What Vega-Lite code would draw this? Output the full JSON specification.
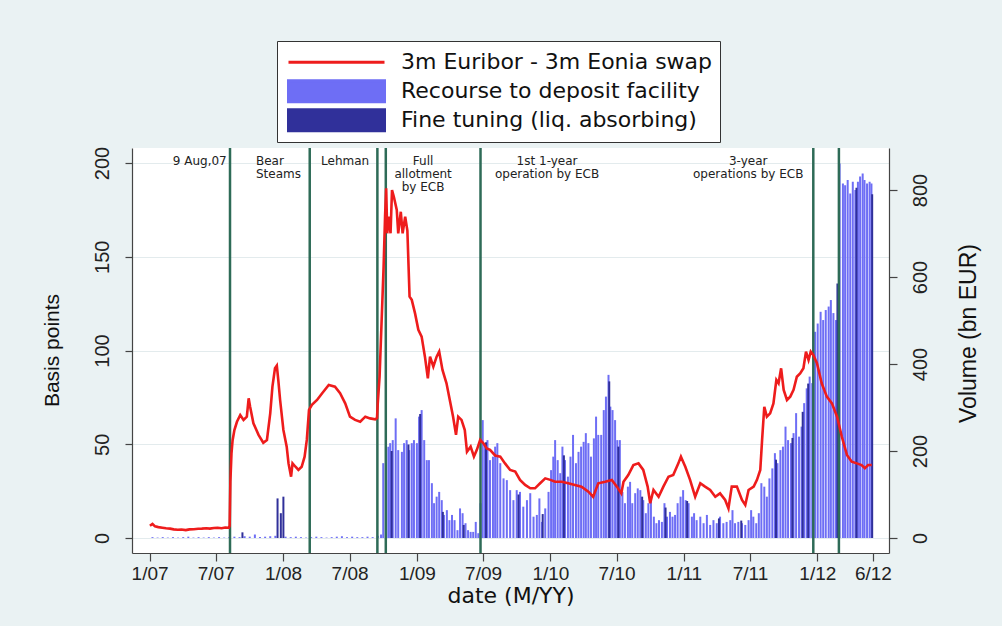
{
  "$schema": "https://vega.github.io/schema/vega-lite/v6.json",
  "width": 757,
  "height": 405,
  "autosize": {"type": "none"},
  "padding": {"left": 132, "top": 148, "right": 113, "bottom": 73},
  "background": "#eaf2f3",
  "view": {"fill": "white", "stroke": null},
  "config": {
    "axis": {"domainColor": "#444", "tickColor": "#444", "labelColor": "#222", "titleColor": "#111", "titleFontWeight": "normal", "domainWidth": 1.2, "tickWidth": 1.2}
  },
  "datasets": {
    "spread": [
      {"date":"2007-01-02","bp":6.5},{"date":"2007-01-09","bp":7.5},{"date":"2007-01-16","bp":6.2},{"date":"2007-01-25","bp":5.8},
      {"date":"2007-02-05","bp":5.5},{"date":"2007-02-15","bp":5.2},{"date":"2007-02-26","bp":5.0},{"date":"2007-03-08","bp":4.6},
      {"date":"2007-03-19","bp":4.4},{"date":"2007-03-29","bp":4.5},{"date":"2007-04-10","bp":4.2},{"date":"2007-04-20","bp":4.6},
      {"date":"2007-05-02","bp":4.7},{"date":"2007-05-14","bp":4.9},{"date":"2007-05-24","bp":5.0},{"date":"2007-06-05","bp":5.2},
      {"date":"2007-06-15","bp":5.0},{"date":"2007-06-26","bp":5.3},{"date":"2007-07-06","bp":5.5},{"date":"2007-07-17","bp":5.2},
      {"date":"2007-07-27","bp":5.6},{"date":"2007-08-06","bp":5.5},{"date":"2007-08-08","bp":6.5},{"date":"2007-08-10","bp":30},
      {"date":"2007-08-13","bp":45},{"date":"2007-08-16","bp":52},{"date":"2007-08-21","bp":57.6},{"date":"2007-08-28","bp":62},
      {"date":"2007-09-06","bp":65.6},{"date":"2007-09-15","bp":63},{"date":"2007-09-24","bp":64.7},{"date":"2007-09-29","bp":74.5},
      {"date":"2007-10-03","bp":70},{"date":"2007-10-12","bp":61.2},{"date":"2007-10-26","bp":55},{"date":"2007-11-08","bp":50.8},
      {"date":"2007-11-18","bp":52.3},{"date":"2007-11-27","bp":66.5},{"date":"2007-12-03","bp":80.7},{"date":"2007-12-10","bp":90.5},
      {"date":"2007-12-15","bp":91.9},{"date":"2007-12-19","bp":84.3},{"date":"2007-12-24","bp":73.6},{"date":"2008-01-02","bp":57.6},
      {"date":"2008-01-11","bp":48.7},{"date":"2008-01-16","bp":39.8},{"date":"2008-01-23","bp":32.7},{"date":"2008-01-27","bp":39.8},
      {"date":"2008-02-04","bp":38},{"date":"2008-02-12","bp":36.3},{"date":"2008-02-21","bp":38},{"date":"2008-02-29","bp":43.4},
      {"date":"2008-03-06","bp":52.3},{"date":"2008-03-12","bp":68.3},{"date":"2008-03-20","bp":71},{"date":"2008-04-03","bp":73.6},
      {"date":"2008-04-17","bp":77.2},{"date":"2008-05-05","bp":81.6},{"date":"2008-05-22","bp":80.7},{"date":"2008-06-05","bp":77.2},
      {"date":"2008-06-19","bp":71.8},{"date":"2008-07-02","bp":64.7},{"date":"2008-07-16","bp":63},{"date":"2008-07-30","bp":62},
      {"date":"2008-08-13","bp":64.7},{"date":"2008-08-26","bp":63.8},{"date":"2008-09-09","bp":63.3},{"date":"2008-09-14","bp":64},
      {"date":"2008-09-16","bp":71.8},{"date":"2008-09-21","bp":86},{"date":"2008-09-27","bp":118},{"date":"2008-10-02","bp":144.7},
      {"date":"2008-10-06","bp":171.4},{"date":"2008-10-09","bp":186.5},{"date":"2008-10-12","bp":162.5},{"date":"2008-10-16","bp":171.4},
      {"date":"2008-10-21","bp":162.5},{"date":"2008-10-25","bp":185.6},{"date":"2008-10-30","bp":182},{"date":"2008-11-07","bp":175},
      {"date":"2008-11-11","bp":162.5},{"date":"2008-11-18","bp":174},{"date":"2008-11-23","bp":162.5},{"date":"2008-11-30","bp":171.4},
      {"date":"2008-12-06","bp":164},{"date":"2008-12-12","bp":128.7},{"date":"2008-12-18","bp":127},{"date":"2008-12-27","bp":119.8},
      {"date":"2009-01-05","bp":111},{"date":"2009-01-14","bp":107.4},{"date":"2009-01-23","bp":96.7},{"date":"2009-01-31","bp":85.2},
      {"date":"2009-02-06","bp":96.7},{"date":"2009-02-15","bp":91.4},{"date":"2009-02-24","bp":96.7},{"date":"2009-03-03","bp":99.4},
      {"date":"2009-03-12","bp":89.6},{"date":"2009-03-23","bp":82.5},{"date":"2009-04-01","bp":73.6},{"date":"2009-04-10","bp":64.7},
      {"date":"2009-04-18","bp":55},{"date":"2009-04-24","bp":64.7},{"date":"2009-05-03","bp":63},{"date":"2009-05-12","bp":57.6},
      {"date":"2009-05-18","bp":46},{"date":"2009-05-28","bp":48.7},{"date":"2009-06-06","bp":43.4},{"date":"2009-06-14","bp":47},
      {"date":"2009-06-23","bp":52.3},{"date":"2009-07-02","bp":50.5},{"date":"2009-07-11","bp":47.8},{"date":"2009-07-20","bp":47},
      {"date":"2009-08-03","bp":44},{"date":"2009-08-17","bp":43.4},{"date":"2009-08-30","bp":39.8},{"date":"2009-09-13","bp":36.3},
      {"date":"2009-09-27","bp":35.4},{"date":"2009-10-10","bp":31},{"date":"2009-10-24","bp":28.3},{"date":"2009-11-07","bp":26.5},
      {"date":"2009-11-20","bp":26.5},{"date":"2009-12-04","bp":29.2},{"date":"2009-12-18","bp":31.8},{"date":"2010-01-01","bp":31},
      {"date":"2010-01-14","bp":30},{"date":"2010-02-01","bp":30},{"date":"2010-02-19","bp":29.2},{"date":"2010-03-09","bp":28.3},
      {"date":"2010-03-27","bp":27.4},{"date":"2010-04-15","bp":24.7},{"date":"2010-04-28","bp":22},{"date":"2010-05-12","bp":29.2},
      {"date":"2010-05-31","bp":30},{"date":"2010-06-18","bp":31},{"date":"2010-07-02","bp":27.4},{"date":"2010-07-14","bp":23.8},
      {"date":"2010-07-20","bp":30},{"date":"2010-08-02","bp":33.6},{"date":"2010-08-16","bp":38.9},{"date":"2010-08-30","bp":39.8},
      {"date":"2010-09-12","bp":36.3},{"date":"2010-09-24","bp":27.4},{"date":"2010-10-01","bp":18.5},{"date":"2010-10-10","bp":25.6},
      {"date":"2010-10-24","bp":22},{"date":"2010-11-06","bp":27.4},{"date":"2010-11-20","bp":32.7},{"date":"2010-12-03","bp":33.6},
      {"date":"2010-12-17","bp":39.8},{"date":"2010-12-24","bp":43.4},{"date":"2011-01-05","bp":38},{"date":"2011-01-18","bp":31},
      {"date":"2011-02-01","bp":22},{"date":"2011-02-15","bp":29.2},{"date":"2011-02-28","bp":27.4},{"date":"2011-03-14","bp":25.6},
      {"date":"2011-03-28","bp":22},{"date":"2011-04-10","bp":23.8},{"date":"2011-04-24","bp":20.3},{"date":"2011-05-03","bp":15.8},
      {"date":"2011-05-12","bp":27.4},{"date":"2011-05-26","bp":27.4},{"date":"2011-06-09","bp":20.3},{"date":"2011-06-18","bp":17.6},
      {"date":"2011-06-27","bp":25.6},{"date":"2011-07-11","bp":27.4},{"date":"2011-07-20","bp":31},{"date":"2011-07-29","bp":36.3},
      {"date":"2011-08-03","bp":52.3},{"date":"2011-08-09","bp":70},{"date":"2011-08-16","bp":64.7},{"date":"2011-08-25","bp":66.5},
      {"date":"2011-09-03","bp":71.8},{"date":"2011-09-11","bp":84.3},{"date":"2011-09-17","bp":82.5},{"date":"2011-09-24","bp":90.5},
      {"date":"2011-10-01","bp":79},{"date":"2011-10-10","bp":73.6},{"date":"2011-10-19","bp":75.4},{"date":"2011-10-28","bp":79},
      {"date":"2011-11-06","bp":86},{"date":"2011-11-15","bp":87.8},{"date":"2011-11-24","bp":90.5},{"date":"2011-12-01","bp":99.4},
      {"date":"2011-12-08","bp":94.9},{"date":"2011-12-14","bp":99.4},{"date":"2011-12-21","bp":97.6},{"date":"2011-12-31","bp":93.2},
      {"date":"2012-01-13","bp":82.5},{"date":"2012-01-27","bp":75.4},{"date":"2012-02-10","bp":71.8},{"date":"2012-02-24","bp":64.7},
      {"date":"2012-03-08","bp":54},{"date":"2012-03-22","bp":44.3},{"date":"2012-04-04","bp":40.7},{"date":"2012-04-18","bp":39.8},
      {"date":"2012-05-01","bp":38.9},{"date":"2012-05-10","bp":37.2},{"date":"2012-05-19","bp":38.9},{"date":"2012-05-29","bp":38.9}
    ],
    "deposit": [
      {"date":"2007-01-09","vol":2},{"date":"2007-01-23","vol":1},{"date":"2007-02-06","vol":2},{"date":"2007-02-20","vol":1},
      {"date":"2007-03-06","vol":2},{"date":"2007-03-20","vol":1},{"date":"2007-04-03","vol":2},{"date":"2007-04-17","vol":3},
      {"date":"2007-05-01","vol":1},{"date":"2007-05-15","vol":2},{"date":"2007-05-29","vol":1},{"date":"2007-06-12","vol":2},
      {"date":"2007-06-26","vol":1},{"date":"2007-07-10","vol":2},{"date":"2007-07-24","vol":1},{"date":"2007-08-07","vol":2},
      {"date":"2007-08-21","vol":3},{"date":"2007-09-04","vol":2},{"date":"2007-09-18","vol":4},{"date":"2007-10-02","vol":3},
      {"date":"2007-10-16","vol":8},{"date":"2007-10-30","vol":2},{"date":"2007-11-13","vol":3},{"date":"2007-11-27","vol":4},
      {"date":"2007-12-11","vol":5},{"date":"2008-01-08","vol":3},{"date":"2008-01-22","vol":2},{"date":"2008-02-05","vol":3},
      {"date":"2008-02-19","vol":2},{"date":"2008-03-04","vol":1},{"date":"2008-03-18","vol":2},{"date":"2008-04-01","vol":3},
      {"date":"2008-04-15","vol":2},{"date":"2008-04-29","vol":1},{"date":"2008-05-13","vol":2},{"date":"2008-05-27","vol":3},
      {"date":"2008-06-10","vol":4},{"date":"2008-06-24","vol":2},{"date":"2008-07-08","vol":3},{"date":"2008-07-22","vol":2},
      {"date":"2008-08-05","vol":2},{"date":"2008-08-19","vol":3},{"date":"2008-09-02","vol":2},{"date":"2008-09-16","vol":5},
      {"date":"2008-09-25","vol":8},
      {"date":"2008-10-01","vol":172},{"date":"2008-10-09","vol":133},{"date":"2008-10-15","vol":210},{"date":"2008-10-20","vol":218},
      {"date":"2008-10-27","vol":225},{"date":"2008-11-04","vol":275},{"date":"2008-11-11","vol":202},{"date":"2008-11-21","vol":198},
      {"date":"2008-11-27","vol":218},{"date":"2008-12-04","vol":225},{"date":"2008-12-11","vol":202},{"date":"2008-12-18","vol":218},
      {"date":"2008-12-24","vol":225},{"date":"2009-01-01","vol":218},{"date":"2009-01-07","vol":279},{"date":"2009-01-14","vol":294},
      {"date":"2009-01-21","vol":225},{"date":"2009-01-28","vol":179},{"date":"2009-02-03","vol":179},{"date":"2009-02-11","vol":126},
      {"date":"2009-02-17","vol":80},{"date":"2009-02-24","vol":95},{"date":"2009-03-03","vol":106},{"date":"2009-03-10","vol":87},
      {"date":"2009-03-16","vol":53},{"date":"2009-03-24","vol":64},{"date":"2009-03-31","vol":41},{"date":"2009-04-07","vol":53},
      {"date":"2009-04-14","vol":41},{"date":"2009-04-22","vol":18},{"date":"2009-04-29","vol":68},{"date":"2009-05-06","vol":57},
      {"date":"2009-05-14","vol":34},{"date":"2009-05-21","vol":18},{"date":"2009-05-28","vol":14},{"date":"2009-06-04","vol":14},
      {"date":"2009-06-11","vol":37},{"date":"2009-06-18","vol":11},{"date":"2009-06-24","vol":80},{"date":"2009-06-30","vol":271},
      {"date":"2009-07-06","vol":218},{"date":"2009-07-13","vol":225},{"date":"2009-07-20","vol":179},{"date":"2009-07-28","vol":187},
      {"date":"2009-08-03","vol":210},{"date":"2009-08-09","vol":218},{"date":"2009-08-17","vol":172},{"date":"2009-08-26","vol":137},
      {"date":"2009-09-04","vol":133},{"date":"2009-09-13","vol":110},{"date":"2009-09-22","vol":87},{"date":"2009-10-01","vol":110},
      {"date":"2009-10-10","vol":106},{"date":"2009-10-19","vol":72},{"date":"2009-10-29","vol":87},{"date":"2009-11-07","vol":103},
      {"date":"2009-11-16","vol":49},{"date":"2009-11-25","vol":53},{"date":"2009-12-02","vol":91},{"date":"2009-12-09","vol":37},
      {"date":"2009-12-18","vol":68},{"date":"2009-12-27","vol":106},{"date":"2010-01-03","vol":156},{"date":"2010-01-09","vol":187},
      {"date":"2010-01-14","vol":225},{"date":"2010-01-21","vol":179},{"date":"2010-01-28","vol":149},{"date":"2010-02-03","vol":210},
      {"date":"2010-02-10","vol":179},{"date":"2010-02-18","vol":141},{"date":"2010-02-25","vol":187},{"date":"2010-03-04","vol":237},
      {"date":"2010-03-12","vol":172},{"date":"2010-03-19","vol":198},{"date":"2010-03-26","vol":210},{"date":"2010-04-02","vol":221},
      {"date":"2010-04-08","vol":241},{"date":"2010-04-15","vol":218},{"date":"2010-04-22","vol":187},{"date":"2010-04-30","vol":229},
      {"date":"2010-05-06","vol":279},{"date":"2010-05-12","vol":237},{"date":"2010-05-20","vol":237},{"date":"2010-05-27","vol":294},
      {"date":"2010-06-02","vol":325},{"date":"2010-06-09","vol":375},{"date":"2010-06-14","vol":302},{"date":"2010-06-20","vol":294},
      {"date":"2010-06-27","vol":271},{"date":"2010-07-03","vol":225},{"date":"2010-07-10","vol":225},{"date":"2010-07-17","vol":106},
      {"date":"2010-07-24","vol":80},{"date":"2010-08-01","vol":118},{"date":"2010-08-07","vol":129},{"date":"2010-08-13","vol":80},
      {"date":"2010-08-21","vol":103},{"date":"2010-08-28","vol":114},{"date":"2010-09-04","vol":110},{"date":"2010-09-12","vol":87},
      {"date":"2010-09-19","vol":57},{"date":"2010-09-26","vol":80},{"date":"2010-10-03","vol":87},{"date":"2010-10-11","vol":49},
      {"date":"2010-10-18","vol":34},{"date":"2010-10-25","vol":41},{"date":"2010-11-02","vol":37},{"date":"2010-11-09","vol":80},
      {"date":"2010-11-16","vol":49},{"date":"2010-11-24","vol":60},{"date":"2010-12-01","vol":49},{"date":"2010-12-08","vol":53},
      {"date":"2010-12-15","vol":80},{"date":"2010-12-23","vol":95},{"date":"2010-12-30","vol":110},{"date":"2011-01-06","vol":87},
      {"date":"2011-01-14","vol":80},{"date":"2011-01-23","vol":49},{"date":"2011-01-29","vol":57},{"date":"2011-02-05","vol":41},
      {"date":"2011-02-15","vol":49},{"date":"2011-02-24","vol":34},{"date":"2011-03-05","vol":53},{"date":"2011-03-14","vol":30},
      {"date":"2011-03-23","vol":41},{"date":"2011-04-01","vol":34},{"date":"2011-04-10","vol":49},{"date":"2011-04-19","vol":34},
      {"date":"2011-04-28","vol":37},{"date":"2011-05-08","vol":41},{"date":"2011-05-14","vol":64},{"date":"2011-05-21","vol":34},
      {"date":"2011-05-30","vol":37},{"date":"2011-06-09","vol":34},{"date":"2011-06-18","vol":30},{"date":"2011-06-27","vol":41},
      {"date":"2011-07-04","vol":64},{"date":"2011-07-10","vol":49},{"date":"2011-07-18","vol":34},{"date":"2011-07-25","vol":57},
      {"date":"2011-08-01","vol":126},{"date":"2011-08-09","vol":118},{"date":"2011-08-16","vol":95},{"date":"2011-08-23","vol":137},
      {"date":"2011-08-31","vol":160},{"date":"2011-09-07","vol":195},{"date":"2011-09-14","vol":172},{"date":"2011-09-22","vol":202},
      {"date":"2011-09-29","vol":210},{"date":"2011-10-06","vol":256},{"date":"2011-10-13","vol":225},{"date":"2011-10-21","vol":218},
      {"date":"2011-10-28","vol":241},{"date":"2011-11-04","vol":287},{"date":"2011-11-12","vol":233},{"date":"2011-11-19","vol":256},
      {"date":"2011-11-26","vol":310},{"date":"2011-12-03","vol":344},{"date":"2011-12-11","vol":371},{"date":"2011-12-18","vol":356},
      {"date":"2011-12-26","vol":474},{"date":"2012-01-02","vol":493},{"date":"2012-01-10","vol":520},{"date":"2012-01-17","vol":501},
      {"date":"2012-01-24","vol":524},{"date":"2012-02-01","vol":532},{"date":"2012-02-07","vol":547},{"date":"2012-02-14","vol":517},
      {"date":"2012-02-21","vol":501},{"date":"2012-03-02","vol":861},{"date":"2012-03-11","vol":815},{"date":"2012-03-17","vol":811},
      {"date":"2012-03-24","vol":823},{"date":"2012-03-31","vol":792},{"date":"2012-04-07","vol":819},{"date":"2012-04-14","vol":800},
      {"date":"2012-04-21","vol":819},{"date":"2012-04-27","vol":831},{"date":"2012-05-04","vol":838},{"date":"2012-05-09","vol":823},
      {"date":"2012-05-16","vol":815},{"date":"2012-05-23","vol":819},{"date":"2012-05-28","vol":815}
    ],
    "finetune": [
      {"date":"2007-09-12","vol":13},{"date":"2007-12-17","vol":91},{"date":"2007-12-26","vol":57},{"date":"2008-01-02","vol":95},
      {"date":"2008-10-24","vol":200},{"date":"2008-12-09","vol":215},{"date":"2009-01-10","vol":285},{"date":"2009-03-13","vol":60},
      {"date":"2009-05-09","vol":30},{"date":"2009-07-09","vol":220},{"date":"2009-10-06","vol":100},{"date":"2009-12-11","vol":55},
      {"date":"2010-02-07","vol":190},{"date":"2010-06-11","vol":360},{"date":"2010-07-06","vol":210},{"date":"2010-09-09","vol":95},
      {"date":"2010-11-12","vol":70},{"date":"2011-01-10","vol":85},{"date":"2011-04-07","vol":45},{"date":"2011-06-07","vol":40},
      {"date":"2011-09-10","vol":180},{"date":"2011-10-25","vol":230},{"date":"2011-11-22","vol":290},{"date":"2011-12-07","vol":355},
      {"date":"2012-02-25","vol":585},{"date":"2012-04-17","vol":805},{"date":"2012-05-30","vol":790}
    ],
    "events": [
      {"date":"2007-08-09"},{"date":"2008-03-14"},{"date":"2008-09-15"},{"date":"2008-10-08"},
      {"date":"2009-06-24"},{"date":"2011-12-21"},{"date":"2012-02-29"}
    ],
    "notes": [
      {"date":"2007-07-31","y":201.3,"t":"9 Aug,07","a":"right"},
      {"date":"2007-10-19","y":201.3,"t":"Bear","a":"left"},
      {"date":"2007-10-19","y":194,"t":"Steams","a":"left"},
      {"date":"2008-04-14","y":201.3,"t":"Lehman","a":"left"},
      {"date":"2009-01-18","y":201.3,"t":"Full","a":"center"},
      {"date":"2009-01-18","y":194.2,"t":"allotment","a":"center"},
      {"date":"2009-01-18","y":187.1,"t":"by ECB","a":"center"},
      {"date":"2009-12-23","y":201.3,"t":"1st 1-year","a":"center"},
      {"date":"2009-12-23","y":194,"t":"operation by ECB","a":"center"},
      {"date":"2011-06-26","y":201.3,"t":"3-year","a":"center"},
      {"date":"2011-06-26","y":194,"t":"operations by ECB","a":"center"}
    ]
  },
  "layer": [
    {
      "layer": [
        {
          "data": {"name": "deposit"},
          "mark": {"type": "bar", "size": 2},
          "encoding": {
            "x": {"field": "date", "type": "temporal", "scale": {"type": "utc", "nice": false, "padding": 0, "domain": [{"year": 2006, "month": 11, "date": 14, "utc": true}, {"year": 2012, "month": 7, "date": 15, "utc": true}]},
              "axis": {"title": "date (M/YY)", "values": [{"year":2007,"month":1,"date":1,"utc":true},{"year":2007,"month":7,"date":1,"utc":true},{"year":2008,"month":1,"date":1,"utc":true},{"year":2008,"month":7,"date":1,"utc":true},{"year":2009,"month":1,"date":1,"utc":true},{"year":2009,"month":7,"date":1,"utc":true},{"year":2010,"month":1,"date":1,"utc":true},{"year":2010,"month":7,"date":1,"utc":true},{"year":2011,"month":1,"date":1,"utc":true},{"year":2011,"month":7,"date":1,"utc":true},{"year":2012,"month":1,"date":1,"utc":true},{"year":2012,"month":6,"date":1,"utc":true}],
                "labelExpr": "(utcmonth(datum.value)+1) + '/' + utcFormat(datum.value, '%y')", "tickSize": 8, "labelFont": "Liberation Sans", "labelFontSize": 19, "labelPadding": 3, "labelFlush": false, "labelOverlap": false, "grid": false,
                "titleFont": "DejaVu Sans", "titleFontSize": 22, "titleY": 49, "titleBaseline": "alphabetic"}},
            "y": {"field": "vol", "type": "quantitative", "scale": {"domain": [-34.5, 896.5], "nice": false, "zero": false},
              "axis": {"title": "Volume (bn EUR)", "orient": "right", "values": [0, 200, 400, 600, 800], "grid": false, "tickSize": 8, "labelAngle": -90, "labelAlign": "center", "labelBaseline": "top", "labelPadding": 13, "labelFont": "Liberation Sans", "labelFontSize": 20,
                "titleAngle": -90, "titleX": 86, "titleY": 185, "titleAlign": "center", "titleBaseline": "alphabetic", "titleFont": "Liberation Sans", "titleFontSize": 23}},
            "color": {"datum": "Recourse to deposit facility", "type": "nominal",
              "scale": {"domain": ["3m Euribor - 3m Eonia swap", "Recourse to deposit facility", "Fine tuning (liq. absorbing)"], "range": ["#ee1c1c", "#6e6ef5", "#30309a"]},
              "legend": {"title": null, "orient": "none", "legendX": 145, "legendY": -107, "direction": "vertical", "padding": 7, "strokeColor": "#333", "fillColor": "white",
                "labelFont": "DejaVu Sans", "labelFontSize": 22, "labelColor": "#111", "labelOffset": 15, "labelLimit": 0, "rowPadding": 0, "clipHeight": 28.5, "symbolSize": 9216, "symbolOffset": 3,
                "encode": {"symbols": {"update": {
                  "shape": {"signal": "datum.value === '3m Euribor - 3m Eonia swap' ? 'M-1,0H1' : 'M-1,-0.22H1V0.22H-1Z'"},
                  "fill": {"signal": "datum.value === '3m Euribor - 3m Eonia swap' ? 'transparent' : (datum.value === 'Recourse to deposit facility' ? '#6e6ef5' : '#30309a')"},
                  "stroke": {"signal": "datum.value === '3m Euribor - 3m Eonia swap' ? '#ee1c1c' : 'transparent'"},
                  "strokeWidth": {"value": 3}, "opacity": {"value": 1}}}}}}
          }
        },
        {
          "data": {"name": "finetune"},
          "mark": {"type": "bar", "size": 2},
          "encoding": {
            "x": {"field": "date", "type": "temporal"},
            "y": {"field": "vol", "type": "quantitative"},
            "color": {"datum": "Fine tuning (liq. absorbing)", "type": "nominal"}
          }
        }
      ]
    },
    {
      "layer": [
        {
          "data": {"name": "events"},
          "mark": {"type": "rule", "color": "#2e6b57", "strokeWidth": 2.5},
          "encoding": {"x": {"field": "date", "type": "temporal"}}
        },
        {
          "data": {"name": "spread"},
          "mark": {"type": "line", "strokeWidth": 2.6},
          "encoding": {
            "x": {"field": "date", "type": "temporal"},
            "y": {"field": "bp", "type": "quantitative", "scale": {"domain": [-8, 208], "nice": false, "zero": false},
              "axis": {"title": "Basis points", "orient": "left", "values": [0, 50, 100, 150, 200], "grid": true, "gridColor": "#e3ebed", "gridWidth": 1, "tickSize": 7, "labelAngle": -90, "labelAlign": "center", "labelBaseline": "bottom", "labelPadding": 13, "labelFont": "Liberation Sans", "labelFontSize": 20,
                "titleAngle": -90, "titleX": -74, "titleY": 202, "titleAlign": "center", "titleBaseline": "alphabetic", "titleFont": "Liberation Sans", "titleFontSize": 21}},
            "color": {"datum": "3m Euribor - 3m Eonia swap", "type": "nominal"}
          }
        },
        {
          "data": {"name": "notes"},
          "transform": [{"filter": "datum.a === 'right'"}],
          "mark": {"type": "text", "align": "right", "baseline": "middle", "font": "DejaVu Sans", "fontSize": 12, "color": "#222"},
          "encoding": {"x": {"field": "date", "type": "temporal"}, "y": {"field": "y", "type": "quantitative"}, "text": {"field": "t"}}
        },
        {
          "data": {"name": "notes"},
          "transform": [{"filter": "datum.a === 'left'"}],
          "mark": {"type": "text", "align": "left", "baseline": "middle", "font": "DejaVu Sans", "fontSize": 12, "color": "#222"},
          "encoding": {"x": {"field": "date", "type": "temporal"}, "y": {"field": "y", "type": "quantitative"}, "text": {"field": "t"}}
        },
        {
          "data": {"name": "notes"},
          "transform": [{"filter": "datum.a === 'center'"}],
          "mark": {"type": "text", "align": "center", "baseline": "middle", "font": "DejaVu Sans", "fontSize": 12, "color": "#222"},
          "encoding": {"x": {"field": "date", "type": "temporal"}, "y": {"field": "y", "type": "quantitative"}, "text": {"field": "t"}}
        }
      ]
    }
  ],
  "resolve": {"scale": {"y": "independent"}}
}
